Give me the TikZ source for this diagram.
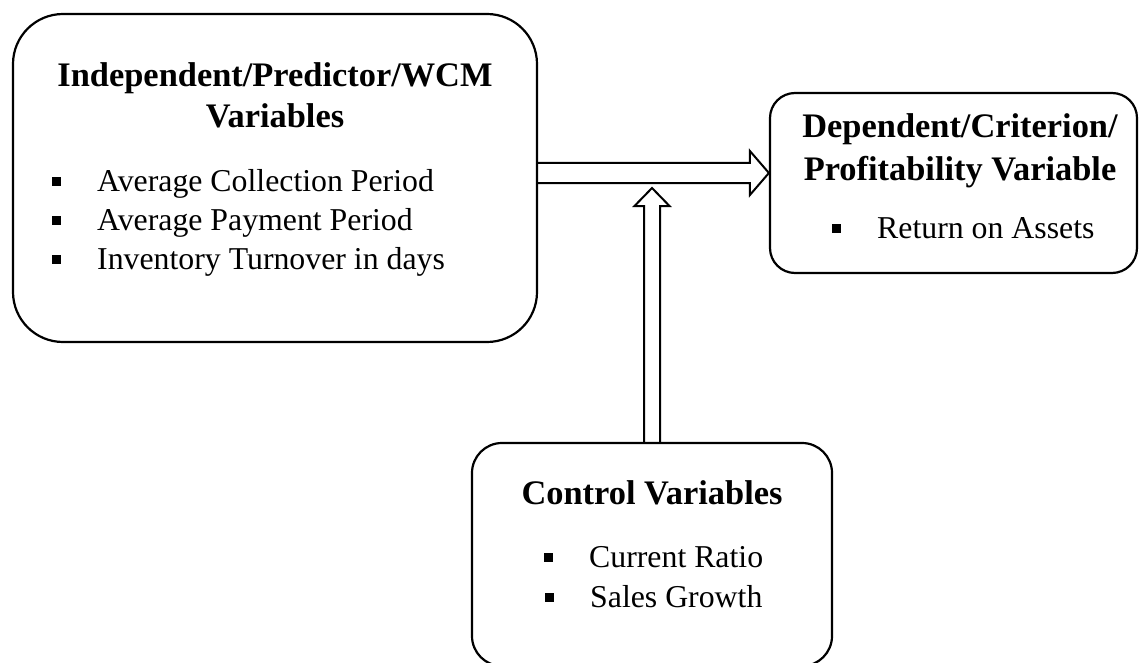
\documentclass[tikz,border=0pt]{standalone}
\usepackage{fontspec}
\setmainfont{Liberation Serif}
\usetikzlibrary{calc,backgrounds}
% square bullet followed by the hanging gap before the item text
\newcommand\sqbul{\raisebox{5.5pt}{\rule{8.5pt}{8.5pt}}\hspace{36.5pt}}
\begin{document}
\begin{tikzpicture}[x=1pt,y=-1pt,
  box/.style={draw, line width=2.2pt, inner sep=0pt},
  head/.style={font=\fontsize{34.4}{41}\selectfont\bfseries, inner sep=0pt, anchor=base},
  itm/.style={font=\fontsize{31.8}{38}\selectfont, inner sep=0pt, anchor=base west},
  hollow/.style={draw, line width=2pt, fill=white, line join=miter}]
\useasboundingbox (0,0) rectangle (1139,663);
\clip (0,0) rectangle (1139,663);

% the three framed blocks
\node[box, rounded corners=50pt, minimum width=524pt, minimum height=328pt] (wcm) at (275,178) {};
\node[box, rounded corners=25pt, minimum width=367pt, minimum height=180pt] (dep) at (953.5,183) {};
\node[box, rounded corners=30pt, minimum width=360pt, minimum height=223pt] (ctrl) at (652,554.5) {};

% independent variables
\node[head] (wcmA) at (275,87) {Independent/Predictor/WCM};
\node[head] (wcmB) at (275,128) {Variables};
\node[itm] (acp) at (52,191) {\sqbul Average Collection Period};
\node[itm] (app) at (52,230) {\sqbul Average Payment Period};
\node[itm] (itd) at (52,269) {\sqbul Inventory Turnover in days};

% dependent variable
\node[head] (depA) at (960,138) {Dependent/Criterion/};
\node[head] (depB) at (960,180) {Profitability Variable};
\node[itm] (roa) at (832,238) {\sqbul Return on Assets};

% control variables
\node[head] (ctrlA) at (652,504) {Control Variables};
\node[itm] (cr) at (544,567) {\sqbul Current Ratio};
\node[itm] (sg) at (545,607) {\sqbul Sales Growth};

% block arrows
\coordinate (hs) at ($(wcm.east)+(0,-5)$);
\coordinate (ht) at ($(dep.west)+(0,-10)$);
\coordinate (vs) at (ctrl.north);
\coordinate (vt) at (652,188);
\begin{scope}[on background layer]
\draw[hollow] ($(hs)+(0,-10)$) -- ($(ht)+(-19,-10)$) -- ($(ht)+(-19,-22)$) -- (ht)
  -- ($(ht)+(-19,22)$) -- ($(ht)+(-19,10)$) -- ($(hs)+(0,10)$);
\draw[hollow] ($(vs)+(-8,0)$) -- ($(vt)+(-8,18)$) -- ($(vt)+(-17.5,18)$) -- (vt)
  -- ($(vt)+(17.5,18)$) -- ($(vt)+(8,18)$) -- ($(vs)+(8,0)$);
\end{scope}
\end{tikzpicture}
\end{document}
